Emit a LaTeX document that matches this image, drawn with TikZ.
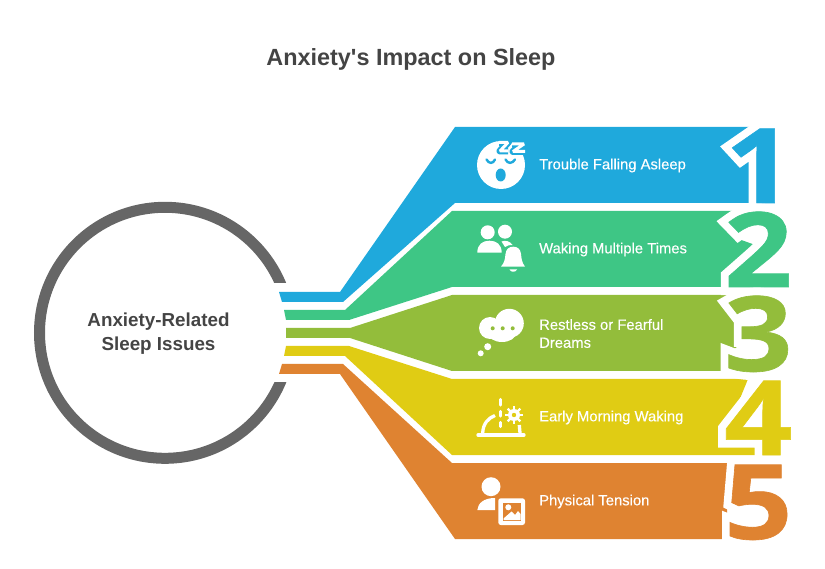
\documentclass[tikz,border=0pt]{standalone}
\usepackage{fontspec}
\setmainfont{Liberation Sans}
\newfontfamily\labelfont[FakeBold=0.25]{Liberation Sans}
\newfontfamily\numfont[FakeStretch=1.15]{Open Sans Bold}
\newfontfamily\numheavyfont[FakeBold=0.6,FakeStretch=1.15]{Open Sans Bold}
\definecolor{bandblue}{HTML}{1FA9DC}
\definecolor{bandgreen}{HTML}{3EC685}
\definecolor{bandlime}{HTML}{93BD3B}
\definecolor{bandyellow}{HTML}{E0CC14}
\definecolor{bandorange}{HTML}{DF8331}
\definecolor{ringgray}{HTML}{666666}
\definecolor{darktext}{HTML}{444444}
% white edge round a digit, then the digit itself
\newcommand{\edgednum}[1]{{\special{pdf:code q 1 Tr 16 w 2.5 M 1 1 1 RG}\rlap{#1}\special{pdf:code Q}}{\numheavyfont #1}}
\tikzset{
    bandlabel/.style={anchor=west, inner sep=0pt, text=white, align=left, font=\labelfont\fontsize{14.8}{18}\selectfont},
    bandnum/.style={anchor=base west, inner sep=0pt, font=\numfont\fontsize{104}{104}\selectfont},
    iconline/.style={white, line width=3.3pt, line cap=round, line join=round}
}
\begin{document}
\begin{tikzpicture}[x=1pt, y=-1pt]
    \useasboundingbox (0,0) rectangle (825,569);

    \node[font=\bfseries\fontsize{23.4}{28}\selectfont, text=darktext, inner sep=0pt] (title) at (411,59) {Anxiety\textquotesingle s Impact on Sleep};

    % ring, opened on the right
    \node[circle, draw=ringgray, line width=11pt, minimum size=251pt, inner sep=0pt] (ring) at (165,332.8) {};
    \fill[white] (270,283.3) rectangle (300,382);
    \node[align=center, text=darktext, inner sep=0pt, font=\bfseries\fontsize{18.8}{24}\selectfont] (issues) at (158.5,334) {Anxiety-Related\\Sleep Issues};

    % bands
    \fill[bandblue] (279,292) -- (340,292) -- (455,127) -- (776,127) -- (776,203) -- (455,203) -- (343,302) -- (282,302) -- cycle;
    \fill[bandgreen] (284,310) -- (345,310) -- (452,211) -- (733,211) -- (733,237) -- (758,246) -- (733,278) -- (733,287) -- (452,287) -- (349,320) -- (286,320) -- cycle;
    \fill[bandlime] (286,328) -- (350,328) -- (452,295) -- (733,295) -- (733,315) -- (748,322) -- (748,338) -- (733,350) -- (733,371) -- (452,371) -- (350,338) -- (286,338) -- cycle;
    \fill[bandyellow] (286,346) -- (349,346) -- (452,379) -- (748,379) -- (728,428) -- (730,440) -- (757,441) -- (757,455) -- (452,455) -- (345,356) -- (284,356) -- cycle;
    \fill[bandorange] (282,364) -- (343,364) -- (452,463) -- (733,463) -- (727,505) -- (727,530) -- (733,539) -- (455,539) -- (340,374) -- (279,374) -- cycle;

    % numbers
    \node[bandnum, text=bandblue] (num1) at (725,203) {\edgednum{1}};
    \node[bandnum, text=bandgreen] (num2) at (724,287) {\edgednum{2}};
    \node[bandnum, text=bandlime] (num3) at (724,371) {\edgednum{3}};
    \node[bandnum, text=bandyellow] (num4) at (724,455) {\edgednum{4}};
    \node[bandnum, text=bandorange] (num5) at (724,539) {\edgednum{5}};

    % labels
    \node[bandlabel] (label1) at (539,165.5) {Trouble Falling Asleep};
    \node[bandlabel] (label2) at (539,249.5) {Waking Multiple Times};
    \node[bandlabel] (label3) at (539,333.5) {Restless or Fearful\\Dreams};
    \node[bandlabel] (label4) at (539,417.5) {Early Morning Waking};
    \node[bandlabel] (label5) at (539,501.5) {Physical Tension};

    % sleeping face
    \fill[white] (501,165) circle (24);
    \draw[bandblue, line width=7pt, line join=round] (499,142.5) -- (508,142.5) -- (500,151) -- (508,151);
    \draw[bandblue, line width=7pt, line join=round] (512,144) -- (524,144) -- (513,151.5) -- (525,151.5);
    \draw[iconline, line width=3pt, line cap=butt, line join=bevel] (499,142.5) -- (508,142.5) -- (500,151) -- (508,151);
    \draw[iconline, line width=3pt, line cap=butt, line join=bevel] (512,144) -- (524,144) -- (513,151.5) -- (525,151.5);
    \draw[bandblue, line width=2.4pt, line cap=round] (486.5,159.5) .. controls (489,164) and (493,164) .. (495,159.5);
    \draw[bandblue, line width=2.4pt, line cap=round] (505.5,159.5) .. controls (508,164) and (512,164) .. (515,159.5);
    \fill[bandblue] (500.7,175) ellipse (5 and 6.5);

    % people and bell
    \fill[white] (487.7,232.3) circle (7);
    \fill[white] (477.3,252.7) .. controls (477.3,244) and (483,240.7) .. (489.5,240.7) .. controls (496,240.7) and (501.7,244) .. (501.7,252.7) -- cycle;
    \fill[white] (505,231.7) circle (7);
    \fill[white] (501.5,241.5) .. controls (505,240) and (510,241) .. (512.7,245) .. controls (509,245) and (507,245.5) .. (505,247) -- cycle;
    \fill[white] (501,266.7) .. controls (505,262) and (505,258) .. (505.5,254) .. controls (506,249) and (509,246.7) .. (513.3,246.7)
        .. controls (517.5,246.7) and (520.5,249) .. (521,254) .. controls (521.5,258) and (521.5,262) .. (525,266.7) -- cycle;
    \fill[white] (509.5,269.5) .. controls (510.5,272.5) and (516,272.5) .. (517,269.5) -- cycle;

    % thought cloud
    \fill[white] (509.3,323.3) circle (14.5);
    \fill[white] (490,328) circle (11);
    \fill[white] (502,333) ellipse (14 and 9);
    \fill[white] (487.7,346.7) circle (3.5);
    \fill[white] (480.7,353.3) circle (3);
    \foreach \dotx in {492.7,502.7,512.7}
        \fill[bandlime] (\dotx,328.3) circle (2);

    % sunrise
    \draw[iconline] (478,435) -- (524,435);
    \draw[iconline, line cap=butt] (482.7,433) .. controls (483,424) and (488,418) .. (495,415.5);
    \draw[iconline, line cap=butt] (519.3,425) -- (520,433);
    \draw[iconline] (500.7,399.5) -- (500.7,405);
    \draw[iconline] (500.7,411.5) -- (500.7,416);
    \draw[iconline] (500.7,422.5) -- (500.7,426.5);
    \foreach \rayangle in {0,45,...,315}
        \draw[white, line width=2.4pt] (514,415) -- ++(\rayangle:9);
    \fill[white] (514,415) circle (6);
    \fill[bandyellow] (514,415) circle (2.2);

    % person and photo
    \fill[white] (491,486.7) circle (9.5);
    \fill[white] (477.3,510) .. controls (478,503) and (484,498) .. (495,498) -- (495,510) -- cycle;
    \fill[white, rounded corners=2.5pt] (498.3,498.3) rectangle (525,525);
    \fill[bandorange] (502.7,502.7) rectangle (520.7,520.5);
    \fill[white] (508.3,507.3) circle (3);
    \fill[white] (503.5,520) -- (503.5,518.5) -- (511.5,511.5) -- (515,515) -- (518,511) -- (520.5,514) -- (520.5,520) -- cycle;
\end{tikzpicture}
\end{document}
